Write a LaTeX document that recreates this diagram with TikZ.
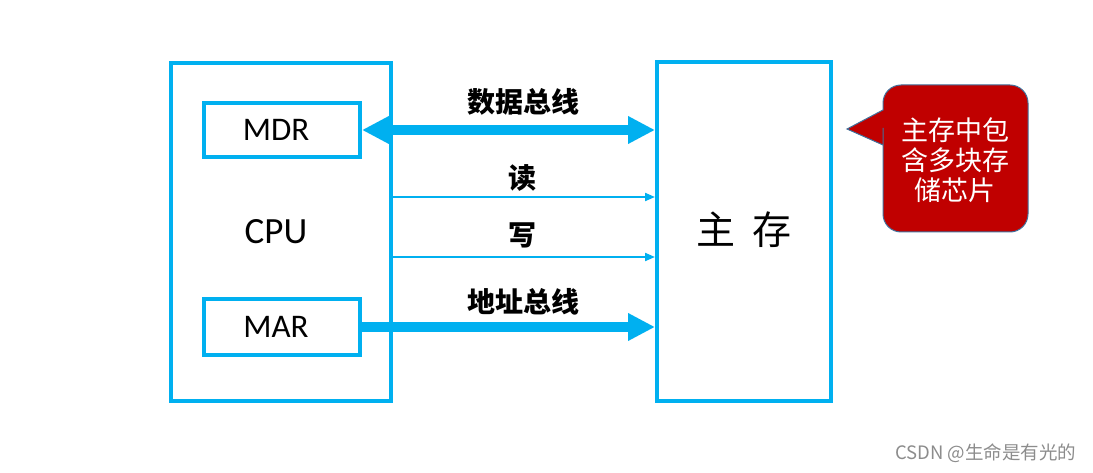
\documentclass[tikz,border=0pt]{standalone}
\usepackage{fontspec}
\setmainfont{Carlito}
\newfontfamily\cjk{Noto Sans CJK SC}
\usetikzlibrary{arrows.meta}
\definecolor{cblue}{HTML}{00B0F0}
\definecolor{cred}{HTML}{C00000}
\definecolor{cedge}{HTML}{41719C}
\begin{document}
\begin{tikzpicture}[x=1pt,y=-1pt,
  bigtip/.tip={Triangle[length=27pt,width=26pt]},
  smalltip/.tip={Triangle[length=10pt,width=8pt]},
  box/.style={draw=cblue,line width=4pt,inner sep=0pt},
  lbl/.style={font=\fontsize{33}{36}\selectfont},
  buslbl/.style={font=\cjk\bfseries\fontsize{28}{30}\selectfont},
  bus/.style={draw=cblue,line width=10pt,arrows={-bigtip}},
  dbus/.style={draw=cblue,line width=10pt,arrows={bigtip-bigtip}},
  sig/.style={draw=cblue,line width=2pt,arrows={-smalltip}}]
\useasboundingbox (0,0) rectangle (1093,473);
% CPU
\node[box,minimum width=220pt,minimum height=338pt] (cpu) at (281,232) {};
\node[font=\fontsize{37}{40}\selectfont] (cputxt) at (276,232) {CPU};
\node[box,minimum width=156pt,minimum height=54pt] (mdr) at (282,130) {};
\node[lbl] (mdrtxt) at (276,130) {MDR};
\node[box,minimum width=156pt,minimum height=55pt] (mar) at (282,327) {};
\node[lbl] (martxt) at (276,327) {MAR};
% main memory
\node[box,minimum width=174pt,minimum height=339pt] (mem) at (744,231.5) {};
\node[font=\cjk\fontsize{39}{42}\selectfont] (memtxt) at (744,230) {主\hspace{0.45em}存};
% coordinates
\coordinate (dl) at (362,130);
\coordinate (dr) at (655,130);
\coordinate (rl) at (392,197);
\coordinate (rr) at (655,197);
\coordinate (wl) at (392,257);
\coordinate (wr) at (655,257);
\coordinate (al) at (362,327);
\coordinate (ar) at (655,327);
% buses
\draw[dbus] (dl) -- (dr);
\draw[sig] (rl) -- (rr);
\draw[sig] (wl) -- (wr);
\draw[bus] (al) -- (ar);
\node[buslbl] (dbuslbl) at (523,102) {数据总线};
\node[buslbl] (rd) at (522,178) {读};
\node[buslbl] (wt) at (522,235) {写};
\node[buslbl] (abuslbl) at (523,302) {地址总线};
% callout
\draw[fill=cred,draw=cedge,line width=1pt,rounded corners=18pt]
  (955,85) -- (1028,85) -- (1028,232) -- (883,232) -- (883,146) [sharp corners]
  -- (883,145) -- (847,129) -- (883,110) -- (883,109) [rounded corners=18pt] -- (883,85) -- cycle;
\node[font=\cjk\fontsize{27}{30}\selectfont,text=white,align=center] (note) at (955,160) {主存中包\\含多块存\\储芯片};
% watermark
\node[font=\cjk\fontsize{18.5}{20}\selectfont,text=black!45,anchor=east] (wm) at (1080,453) {CSDN @生命是有光的};
\end{tikzpicture}
\end{document}
